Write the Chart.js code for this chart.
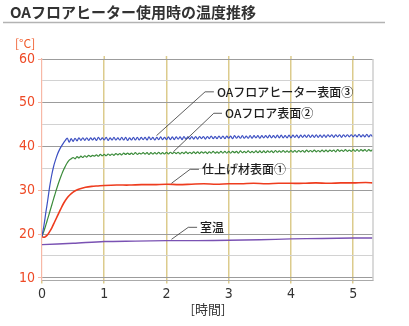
<!DOCTYPE html>
<html lang="ja">
<head>
<meta charset="utf-8">
<title>OAフロアヒーター使用時の温度推移</title>
<script src="https://cdn.jsdelivr.net/npm/chart.js@4.4.1/dist/chart.umd.min.js"></script>
<style>
  html, body { margin: 0; padding: 0; background: #fff; }
  #wrap { width: 409px; height: 326px; position: relative; }
</style>
</head>
<body>
<div id="wrap"><canvas id="tempChart"></canvas></div>
<script>
// logger samples the surfaces every 1/32 hour
const STEP = 1 / 32;

// OAフロアヒーター表面③
const heaterTemp = [
  19.5, 22.0, 25.0, 27.9, 31.0, 33.5, 35.5, 37.0, 38.3, 39.3, 40.1, 40.8, 41.4, 41.9, 41.0, 41.8,
  41.2, 41.9, 41.3, 42.0, 41.4, 42.0, 41.4, 42.0, 41.4, 42.0, 41.5, 42.0, 41.4, 42.1, 41.5, 42.0,
  41.5, 42.1, 41.4, 42.0, 41.5, 42.1, 41.5, 42.0, 41.5, 42.1, 41.5, 42.1, 41.4, 42.0, 41.5, 42.1,
  41.5, 42.1, 41.5, 42.1, 41.6, 42.1, 41.5, 42.2, 41.6, 42.1, 41.5, 42.1, 41.6, 42.2, 41.6, 42.1,
  41.6, 42.2, 41.6, 42.2, 41.6, 42.2, 41.7, 42.2, 41.6, 42.3, 41.7, 42.2, 41.7, 42.3, 41.7, 42.3,
  41.7, 42.3, 41.8, 42.3, 41.7, 42.3, 41.8, 42.4, 41.8, 42.3, 41.8, 42.4, 41.8, 42.4, 41.8, 42.4,
  41.9, 42.4, 41.8, 42.5, 41.9, 42.4, 41.9, 42.5, 41.9, 42.4, 41.9, 42.5, 41.9, 42.5, 42.0, 42.5,
  41.9, 42.5, 42.0, 42.5, 42.0, 42.6, 42.0, 42.5, 42.0, 42.6, 42.0, 42.6, 42.0, 42.5, 42.0, 42.6,
  42.0, 42.6, 42.1, 42.6, 42.0, 42.6, 42.1, 42.6, 42.1, 42.7, 42.1, 42.6, 42.1, 42.7, 42.1, 42.6,
  42.1, 42.7, 42.1, 42.7, 42.2, 42.7, 42.1, 42.7, 42.2, 42.7, 42.1, 42.7, 42.2, 42.7, 42.2, 42.7,
  42.2, 42.7, 42.2, 42.8, 42.2, 42.7, 42.2, 42.8, 42.2, 42.7, 42.2
];

// OAフロア表面②
const floorTemp = [
  19.5, 20.7, 22.1, 23.6, 25.1, 26.6, 28.1, 29.6, 31.0, 32.3, 33.5, 34.6, 35.5, 36.3, 36.9, 37.2,
  37.5, 37.2, 37.7, 37.4, 37.8, 37.5, 37.9, 37.6, 38.0, 37.7, 38.0, 37.8, 38.1, 37.8, 38.2, 37.9,
  38.2, 37.9, 38.3, 38.0, 38.3, 38.0, 38.4, 38.1, 38.4, 38.1, 38.5, 38.2, 38.5, 38.2, 38.5, 38.2,
  38.6, 38.2, 38.5, 38.3, 38.6, 38.3, 38.6, 38.2, 38.6, 38.3, 38.6, 38.3, 38.7, 38.3, 38.6, 38.3,
  38.7, 38.3, 38.7, 38.4, 38.7, 38.4, 38.7, 38.3, 38.7, 38.4, 38.8, 38.4, 38.7, 38.4, 38.8, 38.4,
  38.8, 38.4, 38.8, 38.5, 38.8, 38.4, 38.8, 38.5, 38.9, 38.5, 38.8, 38.5, 38.9, 38.5, 38.9, 38.5,
  38.9, 38.5, 38.9, 38.6, 38.9, 38.5, 39.0, 38.6, 38.9, 38.6, 39.0, 38.6, 38.9, 38.6, 39.0, 38.6,
  39.0, 38.6, 39.0, 38.6, 39.0, 38.7, 39.0, 38.6, 39.1, 38.7, 39.0, 38.7, 39.1, 38.7, 39.0, 38.7,
  39.1, 38.7, 39.1, 38.7, 39.1, 38.8, 39.1, 38.7, 39.2, 38.8, 39.1, 38.8, 39.2, 38.8, 39.1, 38.8,
  39.2, 38.8, 39.2, 38.8, 39.2, 38.9, 39.2, 38.8, 39.3, 38.9, 39.2, 38.9, 39.3, 38.9, 39.2, 38.9,
  39.3, 38.9, 39.3, 38.9, 39.3, 39.0, 39.3, 38.9, 39.3, 39.0, 39.3
];

// 仕上げ材表面①
const finishHours = [0, 0.04, 0.08, 0.12, 0.16, 0.2, 0.25, 0.3, 0.35, 0.4, 0.45, 0.5, 0.55, 0.6, 0.7, 0.8, 0.9, 1.0,
  1.2, 1.4, 1.6, 1.8, 2.0, 2.2, 2.4, 2.6, 2.8, 3.0, 3.2, 3.4, 3.6, 3.8, 4.0, 4.2, 4.4, 4.6, 4.8, 5.0, 5.2, 5.31];
const finishTemp = [19.4, 19.3, 19.7, 20.5, 21.5, 22.7, 24.2, 25.7, 27.1, 28.2, 29.0, 29.6, 30.0, 30.3, 30.7, 30.9, 31.0, 31.1,
  31.2, 31.2, 31.3, 31.3, 31.4, 31.3, 31.4, 31.5, 31.4, 31.5, 31.5, 31.6, 31.5, 31.6, 31.6, 31.6, 31.7, 31.6, 31.7, 31.7, 31.8, 31.7];

// 室温
const roomHours = [0, 0.5, 1.0, 1.5, 2.0, 2.5, 3.0, 3.5, 4.0, 4.5, 5.0, 5.31];
const roomTemp = [17.6, 17.9, 18.3, 18.4, 18.5, 18.5, 18.6, 18.7, 18.9, 19.0, 19.1, 19.1];

const xTicks = [0, 1, 2, 3, 4, 5];
const yTicks = [10, 20, 30, 40, 50, 60];

// leader-line labels: tip on the curve, knee, and where the text starts (data units)
const callouts = [
  { text: 'OAフロアヒーター表面③', tip: [1.84, 42.5], knee: [2.62, 52.5], textX: 2.81 },
  { text: 'OAフロア表面②', tip: [2.11, 38.8], knee: [2.76, 47.6], textX: 2.94 },
  { text: '仕上げ材表面①', tip: [2.08, 31.6], knee: [2.38, 34.8], textX: 2.57 },
  { text: '室温', tip: [2.08, 18.8], knee: [2.35, 21.55], textX: 2.54 }
];

const JP = '"Noto Sans CJK JP", "Noto Sans", sans-serif';
const NUM = '"Liberation Sans Narrow", "DejaVu Sans Condensed", sans-serif';

const sampled = vals => vals.map((v, i) => ({ x: i * STEP, y: v }));
const paired = (hs, vals) => vals.map((v, i) => ({ x: hs[i], y: v }));

const decorations = {
  id: 'decorations',
  beforeDraw(chart) {
    const { ctx } = chart;
    ctx.save();
    ctx.fillStyle = '#fff';
    ctx.fillRect(0, 0, chart.width, chart.height);
    ctx.restore();
  },
  afterDraw(chart) {
    const { ctx, chartArea: a, scales: { x, y } } = chart;
    ctx.save();

    // heading
    ctx.fillStyle = '#333';
    ctx.font = 'bold 15px ' + JP;
    ctx.textBaseline = 'middle';
    ctx.textAlign = 'left';
    ctx.fillText('OAフロアヒーター使用時の温度推移', 10, 12.5);
    ctx.strokeStyle = '#b3b3b3';
    ctx.lineWidth = 1.3;
    ctx.beginPath();
    ctx.moveTo(3, 22.5);
    ctx.lineTo(385, 22.5);
    ctx.stroke();

    // unit
    ctx.fillStyle = '#f05a2a';
    ctx.font = '12px ' + JP;
    ctx.fillText('[°C]', 15, 43);

    // right frame
    ctx.strokeStyle = '#b5b5b5';
    ctx.lineWidth = 1;
    ctx.beginPath();
    ctx.moveTo(a.right + 0.5, a.top);
    ctx.lineTo(a.right + 0.5, a.bottom);
    ctx.stroke();

    // small marks above the frame on each hour
    ctx.strokeStyle = '#dccb8c';
    ctx.lineWidth = 1.5;
    xTicks.slice(1).forEach(h => {
      const px = x.getPixelForValue(h);
      ctx.beginPath();
      ctx.moveTo(px, a.top - 3);
      ctx.lineTo(px, a.top);
      ctx.stroke();
    });

    // x axis caption
    ctx.fillStyle = '#333';
    ctx.font = '13px ' + JP;
    ctx.textAlign = 'center';
    ctx.fillText('[時間]', 208, 309);

    // callouts
    ctx.font = '500 12px ' + JP;
    ctx.textAlign = 'left';
    callouts.forEach(c => {
      const tx = x.getPixelForValue(c.tip[0]), ty = y.getPixelForValue(c.tip[1]);
      const kx = x.getPixelForValue(c.knee[0]), ky = y.getPixelForValue(c.knee[1]);
      const sx = x.getPixelForValue(c.textX);
      ctx.strokeStyle = '#333';
      ctx.lineWidth = 0.8;
      ctx.beginPath();
      ctx.moveTo(tx, ty);
      ctx.lineTo(kx, ky);
      ctx.lineTo(sx - 3, ky);
      ctx.stroke();
      ctx.fillStyle = '#1e1e1e';
      ctx.fillText(c.text, sx, ky + 0.5);
    });
    ctx.restore();
  }
};

new Chart(document.getElementById('tempChart'), {
  type: 'line',
  data: {
    datasets: [{
      label: 'OAフロアヒーター表面③',
      data: sampled(heaterTemp),
      borderColor: '#3d50c2',
      borderWidth: 1.2,
      tension: 0.4
    }, {
      label: 'OAフロア表面②',
      data: sampled(floorTemp),
      borderColor: '#3b8b3a',
      borderWidth: 1.2,
      tension: 0.4
    }, {
      label: '仕上げ材表面①',
      data: paired(finishHours, finishTemp),
      borderColor: '#ee3c1e',
      borderWidth: 1.6,
      tension: 0.3
    }, {
      label: '室温',
      data: paired(roomHours, roomTemp),
      borderColor: '#7a52b3',
      borderWidth: 1.4,
      tension: 0.3
    }]
  },
  options: {
    responsive: true,
    maintainAspectRatio: false,
    animation: false,
    events: [],
    layout: { padding: { top: 59, right: 36.5, left: 0, bottom: 0 } },
    elements: { point: { radius: 0 } },
    plugins: { legend: { display: false }, tooltip: { enabled: false } },
    scales: {
      x: {
        type: 'linear',
        min: 0,
        max: 5.31,
        afterFit(scale) { scale.height = 45.5; },
        afterBuildTicks(scale) { scale.ticks = xTicks.map(v => ({ value: v })); },
        border: { color: '#aaaaaa', width: 1 },
        grid: {
          color: ctx => ctx.tick && ctx.tick.value === 0 ? 'rgba(0,0,0,0)' : '#dccb8c',
          lineWidth: 1.5,
          tickLength: 3,
          tickColor: '#dccb8c'
        },
        ticks: {
          color: '#333',
          font: { family: NUM, size: 14 },
          padding: 2,
          maxRotation: 0
        }
      },
      y: {
        min: 9.4,
        max: 60,
        afterFit(scale) { scale.width = 42; },
        afterBuildTicks(scale) {
          const t = [];
          yTicks.forEach(v => { t.push({ value: v }); if (v < 60) t.push({ value: v + 5 }); });
          scale.ticks = t;
        },
        border: { color: '#f7b8a6', width: 1.2 },
        grid: {
          color: ctx => ctx.tick && ctx.tick.value % 10 === 0 ? '#9c9c9c' : '#d2d2d2',
          lineWidth: 1,
          tickLength: 4,
          tickColor: ctx => ctx.tick && ctx.tick.value % 10 === 0 ? '#f7b8a6' : 'rgba(0,0,0,0)'
        },
        ticks: {
          color: '#ee4a26',
          font: { family: NUM, size: 14 },
          padding: 3,
          callback: v => (v % 10 === 0 ? v : '')
        }
      }
    }
  },
  plugins: [decorations]
});
</script>
</body>
</html>
